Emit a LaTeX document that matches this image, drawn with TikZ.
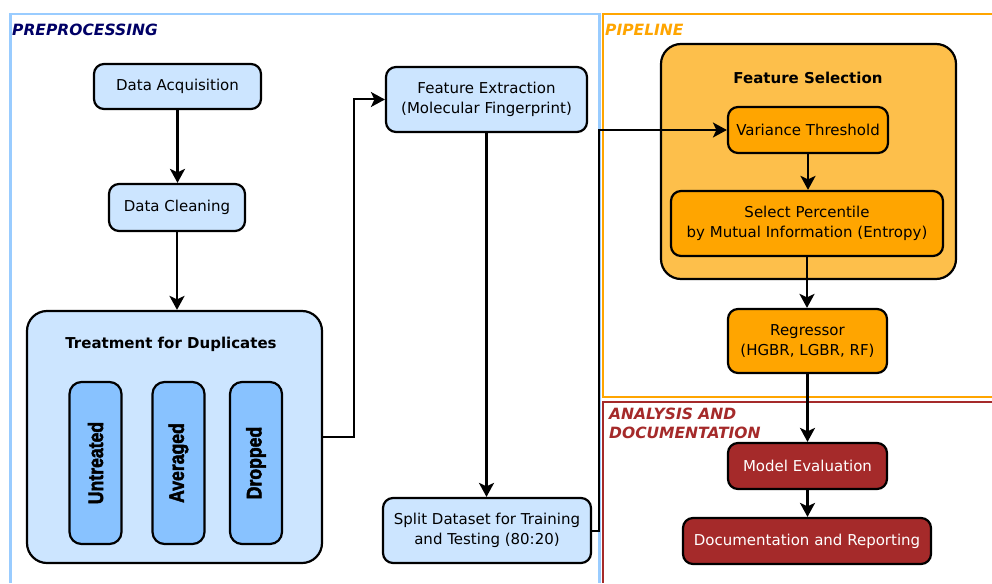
\documentclass[tikz,border=0pt]{standalone}
\usepackage{fontspec}
\setmainfont{DejaVu Sans}
\newfontfamily\pillfont[FakeBold=2.5]{Liberation Sans Bold}
\usetikzlibrary{arrows.meta}
\definecolor{lightblue}{HTML}{CCE5FF}
\definecolor{pillblue}{HTML}{88C2FF}
\definecolor{frameblue}{HTML}{99CCFF}
\definecolor{navy}{HTML}{000066}
\definecolor{orng}{HTML}{FFA500}
\definecolor{lightorng}{HTML}{FDBF4B}
\definecolor{brwn}{HTML}{A52A2A}
\begin{document}
\begin{tikzpicture}[x=1pt,y=-1pt,
  font=\fontsize{15}{20}\selectfont,
  box/.style={draw=black, line width=2.2pt, rounded corners=10pt, align=center, inner sep=0pt},
  bluebox/.style={box, fill=lightblue},
  orbox/.style={box, fill=orng},
  redbox/.style={box, fill=brwn, text=white},
  groupbox/.style={draw=black, line width=2.2pt, rounded corners=20pt, inner sep=0pt},
  pill/.style={box, fill=pillblue, rounded corners=12pt, rotate=90, minimum width=162pt, minimum height=52pt},
  arr/.style={line width=2.6pt, -{Stealth[length=14pt,width=15pt,inset=3.5pt]}},
  elbow/.style={line width=2pt, -{Stealth[length=14pt,width=15pt,inset=3.5pt]}},
  sectitle/.style={font=\fontsize{15.5}{19}\selectfont\bfseries\itshape, inner sep=0pt, align=left},
  grouptitle/.style={font=\fontsize{15}{20}\selectfont\bfseries, inner sep=0pt}
]
\useasboundingbox (0,0) rectangle (992,583);
\fill[white] (0,0) rectangle (992,583);
% frames
\draw[frameblue, line width=2.2pt] (10.5,583) -- (10.5,14) -- (599.5,14) -- (599.5,583);
\draw[orng, line width=2.2pt] (992,14) -- (603,14) -- (603,397) -- (992,397);
\draw[brwn, line width=2.2pt] (992,402) -- (603,402) -- (603,583);
\node[sectitle, text=navy, anchor=west] (t1) at (12,30) {PREPROCESSING};
\node[sectitle, text=orng, anchor=west] (t2) at (605,30) {PIPELINE};
\node[sectitle, text=brwn, anchor=north west] (t3) at (609,408) {ANALYSIS AND\\DOCUMENTATION};

% preprocessing
\node[bluebox, minimum width=167pt, minimum height=45pt] (da) at (177.5,86.5) {Data Acquisition};
\node[bluebox, minimum width=136pt, minimum height=47pt] (dc) at (177,207.5) {Data Cleaning};
\node[bluebox, rounded corners=20pt, minimum width=295pt, minimum height=252pt] (td) at (174.5,437) {};
\node[grouptitle] (tdt) at (171,344) {Treatment for Duplicates};
\node[pill] (p1) at (95.5,463) {\scalebox{0.84}[1]{\pillfont\fontsize{21}{22}\selectfont Untreated}};
\node[pill] (p2) at (178.5,463) {\scalebox{0.84}[1]{\pillfont\fontsize{21}{22}\selectfont Averaged}};
\node[pill] (p3) at (256,463) {\scalebox{0.84}[1]{\pillfont\fontsize{21}{22}\selectfont Dropped}};
\node[bluebox, minimum width=201pt, minimum height=65pt] (fe) at (486.5,99.5) {Feature Extraction\\(Molecular Fingerprint)};
\node[bluebox, minimum width=208pt, minimum height=65pt] (split) at (487,530.5) {Split Dataset for Training\\and Testing (80:20)};

% pipeline
\node[groupbox, fill=lightorng, minimum width=295pt, minimum height=235pt] (fsg) at (808.5,161.5) {};
\node[grouptitle] (fst) at (808,78) {Feature Selection};
\node[orbox, minimum width=160pt, minimum height=46pt] (vt) at (808,130) {Variance Threshold};
\node[orbox, minimum width=272pt, minimum height=65pt] (sp) at (807,223.5) {Select Percentile\\by Mutual Information (Entropy)};
\node[orbox, minimum width=159pt, minimum height=64pt] (reg) at (807.5,341) {Regressor\\(HGBR, LGBR, RF)};

% analysis
\node[redbox, minimum width=159pt, minimum height=46pt] (me) at (807.5,466) {Model Evaluation};
\node[redbox, minimum width=248pt, minimum height=46pt] (dr) at (807,541) {Documentation and Reporting};

% connectors
\draw[arr] (da.south) -- (da.south |- dc.north);
\draw[arr] (dc.south) -- (dc.south |- td.north);
\draw[elbow] (td.east) -- ++(31,0) |- (fe.west);
\draw[arr] (fe.south) -- (fe.south |- split.north);
\draw[elbow] (split.east) -- ++(7,0) |- (vt.west);
\draw[arr] (vt) -- (vt |- sp.north);
\draw[arr] (sp.south) -- (sp.south |- reg.north);
\draw[arr] (reg) -- (me);
\draw[arr] (me) -- (me |- dr.north);
\end{tikzpicture}
\end{document}
